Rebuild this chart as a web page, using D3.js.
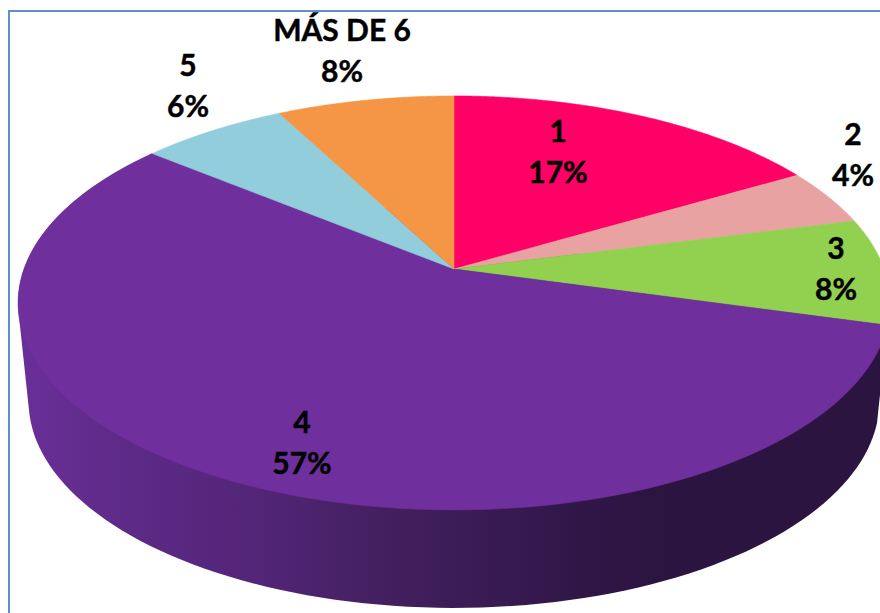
<!DOCTYPE html>
<html>
<head>
<meta charset="utf-8">
<script src="https://cdn.jsdelivr.net/npm/d3@7"></script>
<style>
html,body{margin:0;padding:0;background:#fff;overflow:hidden}
svg{display:block}
text{font-family:Lato,"Open Sans",sans-serif;font-weight:700;fill:#000;stroke:#000;stroke-width:0.45px;text-anchor:middle;font-size:30px}
</style>
</head>
<body>
<svg id="c" width="880" height="613"></svg>
<script>
// data: shares estimated from the slice edges; the labels show them rounded
const categories = ["1", "2", "3", "4", "5", "MÁS DE 6"];
const shares = [16.6, 4.4, 8.3, 56.6, 6.4, 7.7];
const colors = ["#FF0066", "#E9A2A2", "#92D050", "#6F2F9C", "#92CDDC", "#F49645"];

// layout (label anchors: x, baseline of the first line)
const labelAnchors = [[558,142],[853,145],[836,259],[302,433],[188,76],[342,41]];
const lineGap = 40.5;
const wallStops = [[0,"#6A2F99"],[0.12,"#5E2A88"],[0.28,"#522577"],[0.42,"#432060"],[0.52,"#3B1C56"],[0.66,"#301647"],[0.76,"#2B1440"],[1,"#2B1440"]];

const W = 880, H = 613;
const svg = d3.select("#c");

// perspective projection of the unit disc onto the page
const k = -0.164;
const sx = d3.scaleLinear().domain([-1,1]).range([454-430, 454+430]);
const sy = d3.scaleLinear().domain([-1,1]).range([269-201.4, 269+201.4]);
const depth = 98, shrink = 0.976;
function project(angle, r, lower){
  const x = r*Math.sin(angle), y = -r*Math.cos(angle), d = 1 + k*y;
  let px = sx(x/d), py = sy(y/d);
  if(lower){ px = 454 + (px-454)*shrink; py = py + depth; }
  return [px, py];
}
const line = d3.line();
const pie = d3.pie().sort(null).value(d => d)(shares);
const samples = a => d3.range(0, 121).map(i => a.startAngle + (a.endAngle-a.startAngle)*i/120);

// wall gradient
const grad = svg.append("defs").append("linearGradient")
  .attr("id","wall").attr("gradientUnits","userSpaceOnUse")
  .attr("x1",18).attr("x2",880).attr("y1",0).attr("y2",0);
grad.selectAll("stop").data(wallStops).join("stop")
  .attr("offset",d=>d[0]).attr("stop-color",d=>d[1]);

// wall (largest slice is the only one facing the viewer)
pie.forEach((a,i)=>{
  if(shares[i] !== d3.max(shares)) return;
  const pts = samples(a).flatMap(t => [project(t,1,false), project(t,1,true)]);
  svg.append("path").attr("d", line(d3.polygonHull(pts))+"Z").attr("fill","url(#wall)");
});

// top faces
svg.selectAll("path.top").data(pie).join("path").attr("class","top")
  .attr("fill",(d,i)=>colors[i])
  .attr("stroke",(d,i)=>colors[i]).attr("stroke-width",0.6)
  .attr("d", d => line([project(0,0,false), ...samples(d).map(t=>project(t,1,false))])+"Z");

// labels
const g = svg.selectAll("g.lab").data(pie).join("g").attr("class","lab");
g.append("text").attr("x",(d,i)=>labelAnchors[i][0]).attr("y",(d,i)=>labelAnchors[i][1]).text((d,i)=>categories[i]);
g.append("text").attr("x",(d,i)=>labelAnchors[i][0]).attr("y",(d,i)=>labelAnchors[i][1]+lineGap).text((d,i)=>Math.round(shares[i])+"%");

// frame
svg.append("path").attr("d","M9,613V11H880").attr("fill","none").attr("stroke","#5F8FCF").attr("stroke-width",2);
</script>
</body>
</html>
